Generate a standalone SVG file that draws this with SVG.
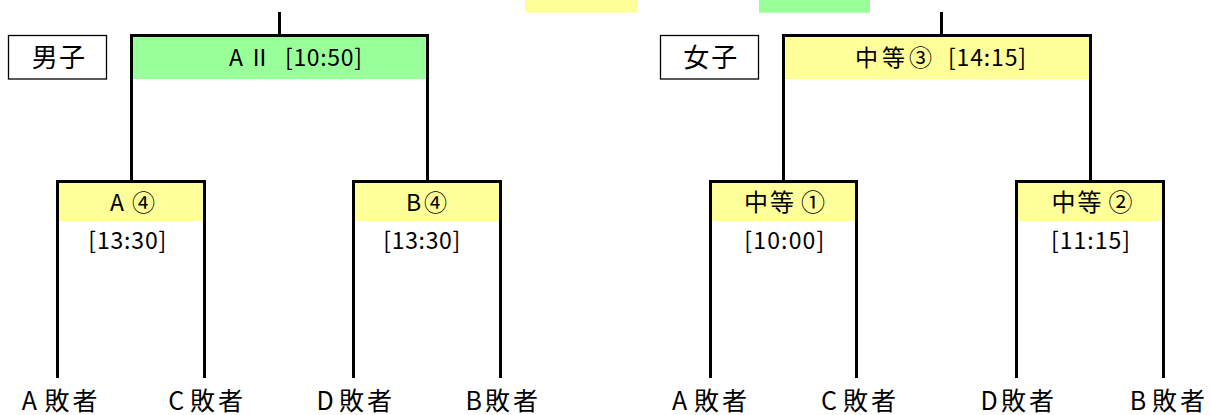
<svg xmlns="http://www.w3.org/2000/svg" width="1211" height="415" viewBox="0 0 1211 415">
<style>
.t{font-family:"Noto Sans CJK JP","Liberation Sans",sans-serif;fill:#000}
.lb{font-size:23px}
.cat{font-size:26px}
.bt{font-size:25px}
.ls{letter-spacing:3px}
.ln{fill:none;stroke:#000;stroke-width:3}
.g{fill:#99FF99}
.y{fill:#FFFF99}
.cb{fill:#fff;stroke:#000;stroke-width:1.3}
</style>
<rect class="y" x="525" y="0" width="112" height="12.7"/>
<rect class="g" x="759" y="0" width="111" height="12.7"/>
<g id="fills">
<rect class="g" x="131" y="35" width="297" height="44"/>
<rect class="y" x="783" y="35" width="308" height="44"/>
<rect class="y" x="57" y="181" width="148" height="40"/>
<rect class="y" x="353" y="181" width="148" height="40"/>
<rect class="y" x="710" y="181" width="147" height="40"/>
<rect class="y" x="1016" y="181" width="148" height="40"/>
</g>
<g id="connectors">
<path class="ln" d="M279.5 12V35.5M131.5 181.5V35.5H427.5V181.5"/>
<path class="ln" d="M57.5 378V181.5H204.5V378M353.5 378V181.5H500.5V378"/>
<path class="ln" d="M941.5 12V35.5M783.5 181.5V35.5H1090.5V181.5"/>
<path class="ln" d="M710.5 378V181.5H856.5V378M1016.5 378V181.5H1163.5V378"/>
</g>
<g id="label-boys">
<rect class="cb" x="8.5" y="35.5" width="98" height="43.5"/>
<text class="t cat" x="31.7" y="67" textLength="53.3">男子</text>
</g>
<g id="label-girls">
<rect class="cb" x="660.5" y="35.5" width="98" height="43.5"/>
<text class="t cat" x="683.3" y="67" textLength="54">女子</text>
</g>
<g id="boys-final">
<text class="t lb" y="66"><tspan x="229">A</tspan><tspan x="248">Ⅱ</tspan><tspan x="285" textLength="77">[10:50]</tspan></text>
</g>
<g id="girls-final">
<text class="t lb" y="66"><tspan x="855" letter-spacing="4">中等③</tspan><tspan x="948" textLength="78">[14:15]</tspan></text>
</g>
<g id="boys-a4">
<text class="t lb" y="211"><tspan x="110">A</tspan><tspan x="132">④</tspan></text>
<text class="t lb" x="88.3" y="249" textLength="78">[13:30]</text>
</g>
<g id="boys-b4">
<text class="t lb" y="211"><tspan x="406">B</tspan><tspan x="424">④</tspan></text>
<text class="t lb" x="383.3" y="249" textLength="77">[13:30]</text>
</g>
<g id="girls-m1">
<text class="t lb" y="211"><tspan x="744" font-size="24" letter-spacing="2">中等</tspan><tspan x="801" font-size="24">①</tspan></text>
<text class="t lb" x="744.3" y="249" textLength="80">[10:00]</text>
</g>
<g id="girls-m2">
<text class="t lb" y="211"><tspan x="1051.5" font-size="24" letter-spacing="2">中等</tspan><tspan x="1108.5" font-size="24">②</tspan></text>
<text class="t lb" x="1051" y="249" textLength="79">[11:15]</text>
</g>
<g id="boys-entrants">
<text class="t bt" y="410"><tspan x="21.7">A</tspan><tspan class="ls" x="44.5">敗者</tspan></text>
<text class="t bt" y="410"><tspan x="168.3">C</tspan><tspan class="ls" x="190">敗者</tspan></text>
<text class="t bt" y="410"><tspan x="316.6">D</tspan><tspan class="ls" x="339">敗者</tspan></text>
<text class="t bt" y="410"><tspan x="465.6">B</tspan><tspan class="ls" x="485">敗者</tspan></text>
</g>
<g id="girls-entrants">
<text class="t bt" y="410"><tspan x="672">A</tspan><tspan class="ls" x="694">敗者</tspan></text>
<text class="t bt" y="410"><tspan x="821">C</tspan><tspan class="ls" x="843">敗者</tspan></text>
<text class="t bt" y="410"><tspan x="980.5">D</tspan><tspan class="ls" x="1001">敗者</tspan></text>
<text class="t bt" y="410"><tspan x="1129.8">B</tspan><tspan class="ls" x="1152">敗者</tspan></text>
</g>
</svg>
